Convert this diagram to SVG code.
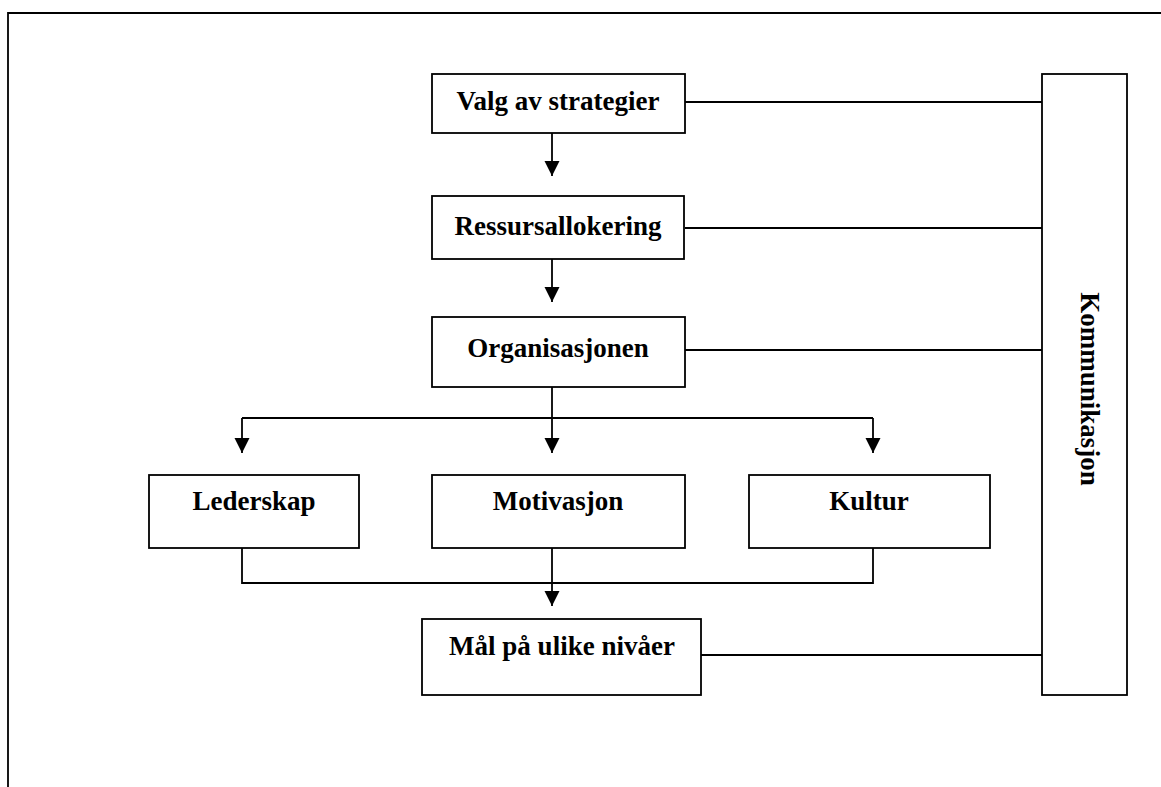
<svg xmlns="http://www.w3.org/2000/svg" width="1161" height="787" viewBox="0 0 1161 787">
<style>
.box{fill:#fff;stroke:#000;stroke-width:1.8}
.ln{fill:none;stroke:#000;stroke-width:1.8}
.t{font-family:"Liberation Serif","Times New Roman",serif;font-weight:bold;font-size:27px;fill:#000;text-anchor:middle}
</style>
<defs>
<marker id="ah" markerUnits="userSpaceOnUse" markerWidth="16" markerHeight="16" viewBox="0 0 16 16" refX="15" refY="8" orient="auto">
<path d="M0,0.5 L15,8 L0,15.5 Z" fill="#000"/>
</marker>
</defs>
<rect width="1161" height="787" fill="#fff"/>
<path class="ln" d="M8,787 V13 H1161" stroke-width="2"/>
<g id="connectors">
<line class="ln" x1="685" y1="102" x2="1042" y2="102"/>
<line class="ln" x1="685" y1="228" x2="1042" y2="228"/>
<line class="ln" x1="685" y1="350" x2="1042" y2="350"/>
<line class="ln" x1="701" y1="655" x2="1042" y2="655"/>
<line class="ln" x1="552" y1="133" x2="552" y2="176" marker-end="url(#ah)"/>
<line class="ln" x1="552" y1="259" x2="552" y2="302" marker-end="url(#ah)"/>
<line class="ln" x1="552" y1="387" x2="552" y2="418"/>
<line class="ln" x1="242" y1="418" x2="873" y2="418"/>
<line class="ln" x1="242" y1="418" x2="242" y2="453" marker-end="url(#ah)"/>
<line class="ln" x1="552" y1="418" x2="552" y2="453" marker-end="url(#ah)"/>
<line class="ln" x1="873" y1="418" x2="873" y2="453" marker-end="url(#ah)"/>
<path class="ln" d="M242,548 V583 H873 V548"/>
<line class="ln" x1="552" y1="548" x2="552" y2="606" marker-end="url(#ah)"/>
</g>
<g id="valg"><rect class="box" x="432" y="74" width="253" height="59"/><text class="t" x="558" y="110">Valg av strategier</text></g>
<g id="ressurs"><rect class="box" x="432" y="196" width="252" height="63"/><text class="t" x="558" y="235">Ressursallokering</text></g>
<g id="org"><rect class="box" x="432" y="317" width="253" height="70"/><text class="t" x="558" y="357">Organisasjonen</text></g>
<g id="lederskap"><rect class="box" x="149" y="475" width="210" height="73"/><text class="t" x="254" y="510">Lederskap</text></g>
<g id="motivasjon"><rect class="box" x="432" y="475" width="253" height="73"/><text class="t" x="558" y="510">Motivasjon</text></g>
<g id="kultur"><rect class="box" x="749" y="475" width="241" height="73"/><text class="t" x="869" y="510">Kultur</text></g>
<g id="maal"><rect class="box" x="422" y="619" width="279" height="76"/><text class="t" x="562" y="655">Mål på ulike nivåer</text></g>
<g id="kommunikasjon"><rect class="box" x="1042" y="74" width="85" height="621"/><text class="t" transform="translate(1081,389) rotate(90)" x="0" y="0">Kommunikasjon</text></g>
</svg>
